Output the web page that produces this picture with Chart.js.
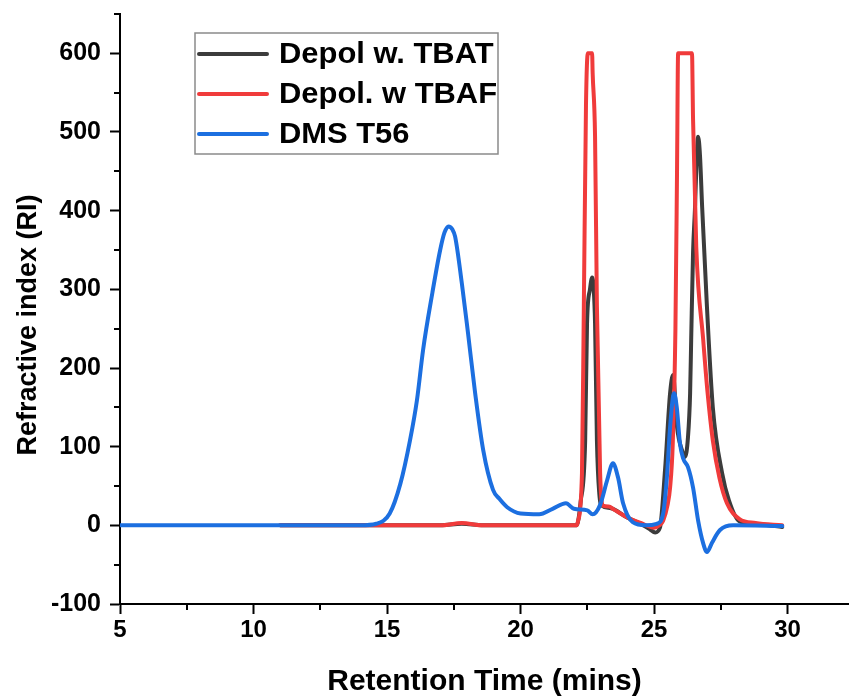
<!DOCTYPE html>
<html>
<head>
<meta charset="utf-8">
<script src="https://cdn.jsdelivr.net/npm/chart.js@4.4.1/dist/chart.umd.min.js"></script>
<style>
  html, body { margin: 0; padding: 0; background: #fff; }
</style>
</head>
<body>
<canvas id="gpc" width="849" height="700"></canvas>
<script>
// GPC traces: retention time (mins) vs refractive index (RI)
const tbatTime = [11, 17, 17.8, 18.6, 22.1, 22.25, 22.42, 22.49, 22.6, 22.68, 22.74, 22.79, 22.86, 22.95, 23.05, 23.35, 23.99, 24.48, 24.8, 25.04, 25.22, 25.41, 25.6, 25.71, 25.86, 26.05, 26.16, 26.27, 26.35, 26.39, 26.46, 26.53, 26.6, 26.65, 26.72, 26.8, 26.98, 27.2, 27.55, 27.8, 28.2, 29.0, 29.8];
const tbatRI   = [0, 0, 2, 0, 0, 30, 108, 257, 300, 315, 300, 257, 108, 40, 25, 22, 10, 2, -4, -9, -3, 70, 168, 191, 125, 95, 87, 112, 168, 236, 347, 401, 470, 494, 470, 405, 278, 150, 66, 32, 5, 1, -2];

const tbafTime = [11, 17, 17.8, 18.6, 22.1, 22.15, 22.3, 22.37, 22.45, 22.52, 22.68, 22.7, 22.79, 22.86, 22.98, 23.09, 23.3, 23.5, 24.0, 24.5, 25.0, 25.2, 25.34, 25.5, 25.6, 25.7, 25.8, 25.86, 25.9, 26.42, 26.46, 26.58, 26.84, 27.0, 27.2, 27.45, 27.73, 28.2, 28.8, 29.8];
const tbafRI   = [0, 0, 3, 0, 0, 5, 66, 278, 533, 600, 600, 575, 494, 278, 66, 25, 24, 20, 10, 3, -3, 0, 6, 25, 48, 104, 250, 450, 600, 600, 516, 354, 236, 170, 108, 60, 28, 8, 3, 0];

const dmsTime = [5, 14.0, 14.6, 15.1, 15.5, 15.86, 16.12, 16.35, 16.7, 16.99, 17.15, 17.3, 17.45, 17.55, 17.8, 18.03, 18.3, 18.6, 18.97, 19.2, 19.5, 20.0, 20.7, 21.2, 21.7, 22.0, 22.5, 22.7, 22.98, 23.24, 23.46, 23.65, 23.84, 24.2, 24.7, 25.1, 25.34, 25.48, 25.6, 25.75, 25.85, 25.97, 26.09, 26.27, 26.46, 26.65, 26.84, 26.98, 27.17, 27.47, 27.96, 29.8];
const dmsRI   = [0, 0, 2, 15, 53, 108, 159, 223, 296, 350, 372, 380, 376, 367, 308, 245, 168, 96, 45, 34, 23, 15, 14, 21, 28, 21, 19, 14, 26, 57, 79, 61, 28, 4, 0, 2, 15, 61, 125, 168, 150, 104, 85, 74, 48, 6, -23, -34, -22, -6, 0, -1];

const seriesNames = ['Depol w. TBAT', 'Depol. w TBAF', 'DMS T56'];
const xMajorTicks = [5, 10, 15, 20, 25, 30];
const xMinorTicks = [7.5, 12.5, 17.5, 22.5, 27.5];
const yMajorTicks = [-100, 0, 100, 200, 300, 400, 500, 600];
const yMinorTicks = [-50, 50, 150, 250, 350, 450, 550, 650];

const toPoints = (xs, ys) => xs.map((x, i) => ({ x: x, y: ys[i] }));

const FONT = '"Liberation Sans", Arial, sans-serif';

// short outward minor ticks, Chart.js has no minor tick option
const minorTicks = {
  id: 'minorTicks',
  afterDraw(chart) {
    const ctx = chart.ctx;
    const xs = chart.scales.x, ys = chart.scales.y;
    const area = chart.chartArea;
    ctx.save();
    ctx.strokeStyle = '#000';
    ctx.lineWidth = 2;
    ctx.beginPath();
    xMinorTicks.forEach(v => {
      const px = Math.round(xs.getPixelForValue(v));
      ctx.moveTo(px, area.bottom);
      ctx.lineTo(px, area.bottom + 6);
    });
    yMinorTicks.forEach(v => {
      const py = Math.round(ys.getPixelForValue(v));
      ctx.moveTo(area.left, py);
      ctx.lineTo(area.left - 6, py);
    });
    ctx.stroke();
    ctx.restore();
  }
};

// y title drawn by hand, it sits a bit below the axis middle in the original
const yTitle = {
  id: 'yTitle',
  afterDraw(chart) {
    const ctx = chart.ctx;
    const area = chart.chartArea;
    ctx.save();
    ctx.translate(29, (area.top + area.bottom) / 2 + 16);
    ctx.rotate(-Math.PI / 2);
    ctx.font = 'bold 27px ' + FONT;
    ctx.fillStyle = '#000';
    ctx.textAlign = 'center';
    ctx.textBaseline = 'middle';
    ctx.fillText('Refractive index (RI)', 0, 0);
    ctx.restore();
  }
};

// boxed legend inside the plot, like the Origin export
const boxLegend = {
  id: 'boxLegend',
  afterDraw(chart) {
    const ctx = chart.ctx;
    const box = { left: 195, top: 33, width: 303, height: 121 };
    ctx.save();
    ctx.fillStyle = '#fff';
    ctx.fillRect(box.left, box.top, box.width, box.height);
    ctx.strokeStyle = '#8a8a8a';
    ctx.lineWidth = 1.5;
    ctx.strokeRect(box.left, box.top, box.width, box.height);
    ctx.textBaseline = 'middle';
    ctx.textAlign = 'left';
    chart.data.datasets.forEach((ds, i) => {
      const y = box.top + 21 + i * 40;
      ctx.strokeStyle = ds.borderColor;
      ctx.lineWidth = 4;
      ctx.lineCap = 'round';
      ctx.beginPath();
      ctx.moveTo(box.left + 4, y);
      ctx.lineTo(box.left + 72, y);
      ctx.stroke();
      ctx.save();
      ctx.translate(box.left + 84, y + 1);
      ctx.scale(1.03, 1);
      ctx.font = 'bold 30px ' + FONT;
      ctx.fillStyle = '#000';
      ctx.fillText(ds.label, 0, 0);
      ctx.restore();
    });
    ctx.restore();
  }
};

const ctx = document.getElementById('gpc').getContext('2d');
new Chart(ctx, {
  type: 'line',
  data: {
    datasets: [{
      label: seriesNames[0],
      data: toPoints(tbatTime, tbatRI),
      borderColor: '#3c3c3c',
      order: 3
    }, {
      label: seriesNames[1],
      data: toPoints(tbafTime, tbafRI),
      borderColor: '#f03b3b',
      order: 2
    }, {
      label: seriesNames[2],
      data: toPoints(dmsTime, dmsRI),
      borderColor: '#1c6fe0',
      order: 1
    }]
  },
  options: {
    responsive: false,
    animation: false,
    devicePixelRatio: 1,
    layout: { padding: { top: 14, right: 0, left: 0, bottom: 0 } },
    elements: {
      point: { radius: 0 },
      line: { borderWidth: 4, cubicInterpolationMode: 'monotone', fill: false, borderJoinStyle: 'round', borderCapStyle: 'round' }
    },
    plugins: {
      legend: { display: false },
      tooltip: { enabled: false }
    },
    scales: {
      x: {
        type: 'linear',
        min: 5,
        max: 32.3,
        afterBuildTicks: s => { s.ticks = xMajorTicks.concat(xMinorTicks).sort((a, b) => a - b).map(v => ({ value: v })); },
        afterFit: s => { s.height = 96; },
        grid: {
          drawOnChartArea: false,
          tickLength: 10,
          tickWidth: 2,
          tickColor: c => (c.tick && xMajorTicks.includes(c.tick.value)) ? '#000' : 'rgba(0,0,0,0)'
        },
        border: { color: '#000', width: 2 },
        ticks: {
          color: '#000',
          padding: 2,
          maxRotation: 0,
          autoSkip: false,
          font: { family: FONT, size: 24, weight: 'bold' },
          callback: v => xMajorTicks.includes(v) ? String(v) : ''
        },
        title: {
          display: true,
          text: 'Retention Time (mins)',
          color: '#000',
          padding: { top: 0, bottom: 0 },
          font: { family: FONT, size: 30, weight: 'bold', lineHeight: 1.2 }
        }
      },
      y: {
        min: -100,
        max: 650,
        afterBuildTicks: s => { s.ticks = yMajorTicks.concat(yMinorTicks).sort((a, b) => a - b).map(v => ({ value: v })); },
        afterFit: s => { s.width = 120; s.paddingTop = 0; s.paddingBottom = 0; },
        grid: {
          drawOnChartArea: false,
          tickLength: 10,
          tickWidth: 2,
          tickColor: c => (c.tick && yMajorTicks.includes(c.tick.value)) ? '#000' : 'rgba(0,0,0,0)'
        },
        border: { color: '#000', width: 2 },
        ticks: {
          color: '#000',
          padding: 9,
          autoSkip: false,
          font: { family: FONT, size: 25, weight: 'bold' },
          callback: v => yMajorTicks.includes(v) ? String(v) : ''
        }
      }
    }
  },
  plugins: [minorTicks, yTitle, boxLegend]
});
</script>
</body>
</html>
